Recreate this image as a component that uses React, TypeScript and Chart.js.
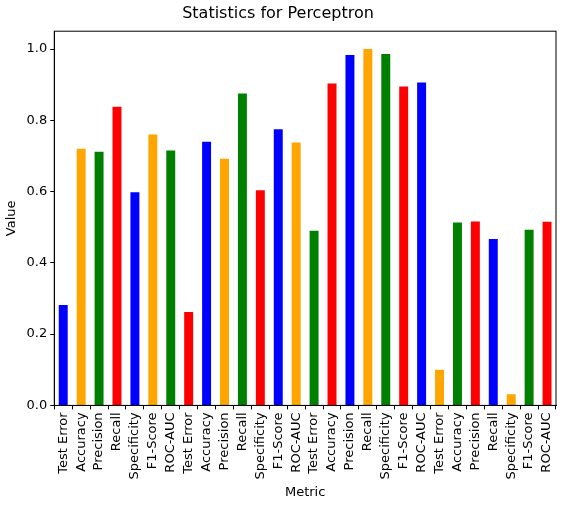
import { useEffect, useRef } from "react";
import { Chart, registerables } from "chart.js";

Chart.register(...registerables);

const metrics = ["Test Error", "Accuracy", "Precision", "Recall", "Specificity", "F1-Score", "ROC-AUC"];
const categories = [...metrics, ...metrics, ...metrics, ...metrics];
const values = [
  0.282, 0.72, 0.712, 0.838, 0.598, 0.76, 0.715,
  0.262, 0.74, 0.692, 0.875, 0.604, 0.775, 0.738,
  0.49, 0.903, 0.983, 1.0, 0.986, 0.895, 0.906,
  0.1, 0.513, 0.516, 0.467, 0.031, 0.493, 0.515,
];
const palette = ["blue", "orange", "green", "red"];
const yTicks = [0, 0.2, 0.4, 0.6, 0.8, 1.0];

const frame = {
  id: "frame",
  afterDraw(chart: Chart) {
    const { ctx, chartArea: a } = chart;
    ctx.save();
    ctx.strokeStyle = "#000";
    ctx.lineWidth = 1;
    ctx.strokeRect(a.left, a.top, a.right - a.left, a.bottom - a.top);
    ctx.restore();
  },
};

export default function App() {
  const chartRef = useRef<HTMLCanvasElement>(null);
  const chartInstance = useRef<Chart | null>(null);

  useEffect(() => {
    document.body.style.margin = "0";
    if (!chartRef.current) return;
    if (chartInstance.current) chartInstance.current.destroy();
    const ctx = chartRef.current.getContext("2d");
    if (!ctx) return;

    const font = { family: "DejaVu Sans", size: 13 };
    const grid = { drawOnChartArea: false, drawTicks: true, tickLength: 4, color: "#000" };

    chartInstance.current = new Chart(ctx, {
      type: "bar",
      data: {
        labels: categories,
        datasets: [
          {
            data: values,
            backgroundColor: values.map((_, i) => palette[i % 4]),
            categoryPercentage: 1,
            barPercentage: 0.5,
          },
        ],
      },
      options: {
        animation: false,
        responsive: false,
        layout: { padding: { left: 0, right: 11, top: 0, bottom: 8 } },
        scales: {
          x: {
            grid,
            border: { color: "#000" },
            ticks: { color: "#000", font, maxRotation: 90, minRotation: 90, autoSkip: false },
            title: { display: true, text: "Metric", color: "#000", font, padding: { top: 2 } },
          },
          y: {
            min: 0,
            max: 1.05,
            afterBuildTicks: (axis) => {
              axis.ticks = yTicks.map((v) => ({ value: v }));
            },
            grid,
            border: { color: "#000" },
            ticks: { color: "#000", font, callback: (v) => Number(v).toFixed(1) },
            title: { display: true, text: "Value", color: "#000", font },
          },
        },
        plugins: {
          legend: { display: false },
          tooltip: { enabled: false },
          title: {
            display: true,
            text: "Statistics for Perceptron",
            color: "#000",
            font: { family: "DejaVu Sans", size: 16, weight: "normal" },
            padding: { top: 4, bottom: 8 },
          },
        },
      },
      plugins: [frame],
    });

    return () => {
      if (chartInstance.current) chartInstance.current.destroy();
    };
  }, []);

  return <canvas ref={chartRef} width={567} height={512} />;
}
